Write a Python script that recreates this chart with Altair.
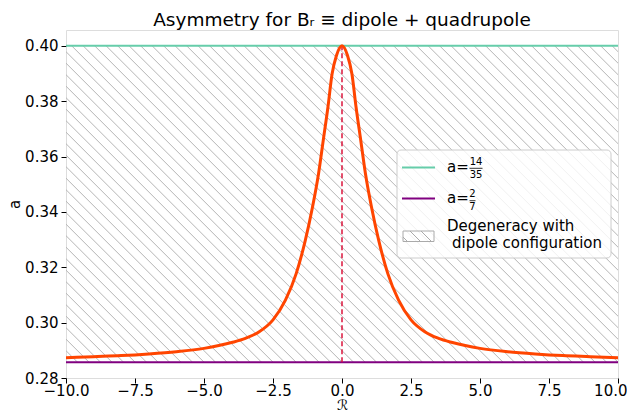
import altair as alt
import numpy as np
import pandas as pd

# ---- data ----
curve_x = [-10, -9, -8, -7, -6, -5, -4, -3.5, -3, -2.5, -2.05, -1.66, -1.33, -1.07, -0.85, -0.68, -0.51, -0.36, -0.2, 0,
           0.2, 0.36, 0.51, 0.68, 0.85, 1.07, 1.33, 1.66, 2.05, 2.5, 3, 3.5, 4, 5, 6, 7, 8, 9, 10]
curve_y = [0.2873, 0.2877, 0.2881, 0.2887, 0.2895, 0.2907, 0.2928, 0.2943, 0.2967, 0.3010, 0.3081, 0.3177, 0.3297,
           0.3417, 0.3538, 0.3658, 0.3778, 0.3898, 0.3965, 0.4000,
           0.3965, 0.3898, 0.3778, 0.3658, 0.3538, 0.3417, 0.3297, 0.3177, 0.3081, 0.3010, 0.2967, 0.2943, 0.2928,
           0.2907, 0.2895, 0.2887, 0.2881, 0.2877, 0.2873]
a_upper = 14 / 35
a_lower = 2 / 7
x_range = [-10, 10]
y_range = [0.28, 0.4057]
x_ticks = [-10, -7.5, -5, -2.5, 0, 2.5, 5, 7.5, 10]
y_ticks = [0.28, 0.30, 0.32, 0.34, 0.36, 0.38, 0.40]

W, H = 552, 348
FONT = "DejaVu Sans"

xs = alt.Scale(domain=x_range, nice=False, zero=False)
ys = alt.Scale(domain=y_range, nice=False, zero=False)

# ---- hatch pattern ("\\") between a_lower and a_upper ----
px_per_x = W / (x_range[1] - x_range[0])
px_per_y = H / (y_range[1] - y_range[0])
D = (a_upper - a_lower) * px_per_y / px_per_x
step = 11.5 / px_per_x
starts = np.arange(x_range[0] - D - step, x_range[1] + step, step)
hatch_df = pd.DataFrame({"x": starts, "x2": starts + D, "y": a_upper, "y2": a_lower})
hatch = alt.Chart(hatch_df).mark_rule(color="#b5b5b5", strokeWidth=1, clip=True).encode(
    x=alt.X("x:Q", scale=xs), x2="x2", y=alt.Y("y:Q", scale=ys), y2="y2")

curve_df = pd.DataFrame({"x": curve_x, "y": curve_y})
base = alt.Chart(curve_df)

last_tick = "datum.value >= %s" % x_ticks[-1]
xaxis = alt.Axis(values=x_ticks, format=".1f", title="ℛ", grid=False, domain=False,
                 labelFontSize=15, titleFontSize=14, titleFontWeight="normal", tickSize=5,
                 tickColor="black", labelColor="black", titleColor="black", labelPadding=0,
                 titlePadding=0, labelFont=FONT, titleFont=FONT, labelFlush=False,
                 labelAlign={"condition": {"test": last_tick, "value": "right"}, "value": "center"},
                 labelOffset={"condition": {"test": last_tick, "value": 9}, "value": 0})
yaxis = alt.Axis(values=y_ticks, format=".2f", title="a", grid=False, domain=False,
                 labelFontSize=15, titleFontSize=15, titleFontWeight="normal", tickSize=5,
                 tickColor="black", labelColor="black", titleColor="black", labelPadding=3,
                 titlePadding=2, labelFont=FONT, titleFont=FONT, labelFlush=False)

curve = base.mark_line(color="#ff4500", strokeWidth=3, interpolate="monotone", clip=True).encode(
    x=alt.X("x:Q", scale=xs, axis=xaxis), y=alt.Y("y:Q", scale=ys, axis=yaxis))

hlines_df = pd.DataFrame({"y": [a_upper, a_lower], "c": ["#66cdaa", "#800080"]})
hlines = alt.Chart(hlines_df).mark_rule(strokeWidth=2).encode(
    y=alt.Y("y:Q", scale=ys), color=alt.Color("c:N", scale=None))

vline_df = pd.DataFrame({"x": [0], "y": [a_lower], "y2": [a_upper]})
vline = alt.Chart(vline_df).mark_rule(color="#dc143c", strokeWidth=1.5, strokeDash=[5, 3]).encode(
    x=alt.X("x:Q", scale=xs), y=alt.Y("y:Q", scale=ys), y2="y2")

# ---- legend (drawn manually, pixel layout) ----
one = pd.DataFrame({"k": [0]})
lg = alt.Chart(one)
legend_box = lg.mark_rect(fill="white", fillOpacity=0.8, stroke="#cccccc", strokeWidth=1, cornerRadius=4).encode(
    x=alt.value(331), x2=alt.value(545), y=alt.value(120), y2=alt.value(228))
leg_teal = lg.mark_rule(color="#66cdaa", strokeWidth=2).encode(
    x=alt.value(336), x2=alt.value(369), y=alt.value(137.5))
leg_purple = lg.mark_rule(color="#800080", strokeWidth=2).encode(
    x=alt.value(336), x2=alt.value(369), y=alt.value(168.5))
leg_rect = lg.mark_rect(fill="white", fillOpacity=0, stroke="#aaaaaa", strokeWidth=1).encode(
    x=alt.value(337), x2=alt.value(368), y=alt.value(201), y2=alt.value(211.5))
seg_df = pd.DataFrame({"x": [337, 344, 355], "x2": [341, 354.5, 365.5], "y": [207, 201, 201], "y2": [211, 211.5, 211.5]})
leg_hatch = alt.Chart(seg_df).mark_rule(color="#aaaaaa", strokeWidth=1).encode(
    x=alt.X("x:Q", scale=None), x2="x2", y=alt.Y("y:Q", scale=None), y2="y2")

txt = dict(font=FONT, color="black", align="left", baseline="middle")
t_a1 = lg.mark_text(fontSize=15, **txt).encode(x=alt.value(381), y=alt.value(137), text=alt.value("a="))
t_n1 = lg.mark_text(fontSize=10, font=FONT, color="black", align="center", baseline="middle").encode(
    x=alt.value(410), y=alt.value(131.5), text=alt.value("14"))
t_d1 = lg.mark_text(fontSize=10, font=FONT, color="black", align="center", baseline="middle").encode(
    x=alt.value(410), y=alt.value(144.5), text=alt.value("35"))
bar1 = lg.mark_rule(color="black", strokeWidth=0.8).encode(x=alt.value(403.5), x2=alt.value(416.5), y=alt.value(138.3))
t_a2 = lg.mark_text(fontSize=15, **txt).encode(x=alt.value(381), y=alt.value(168), text=alt.value("a="))
t_n2 = lg.mark_text(fontSize=10, font=FONT, color="black", align="center", baseline="middle").encode(
    x=alt.value(406.5), y=alt.value(164), text=alt.value("2"))
t_d2 = lg.mark_text(fontSize=10, font=FONT, color="black", align="center", baseline="middle").encode(
    x=alt.value(406.5), y=alt.value(176.5), text=alt.value("7"))
bar2 = lg.mark_rule(color="black", strokeWidth=0.8).encode(x=alt.value(403.5), x2=alt.value(409.5), y=alt.value(170.7))
t_deg1 = lg.mark_text(fontSize=15, **txt).encode(x=alt.value(381), y=alt.value(196), text=alt.value("Degeneracy with"))
t_deg2 = lg.mark_text(fontSize=15, **txt).encode(x=alt.value(386), y=alt.value(212.5), text=alt.value("dipole configuration"))

chart = alt.layer(
    hatch, hlines, vline, curve,
    legend_box, leg_teal, leg_purple, leg_rect, leg_hatch,
    t_a1, t_n1, t_d1, bar1, t_a2, t_n2, t_d2, bar2, t_deg1, t_deg2,
).properties(
    width=W, height=H,
    title=alt.TitleParams("Asymmetry for Bᵣ ≡  dipole + quadrupole", fontSize=18.5, font=FONT,
                          fontWeight="normal", color="black", anchor="middle", offset=1),
    autosize=alt.AutoSizeParams(type="none"),
    padding={"left": 58, "top": 22, "right": 9, "bottom": 33},
).configure_view(stroke="#808080", strokeWidth=1.2).configure(background="white")

chart.save("out.html", embed_options={"renderer": "svg", "actions": False})
